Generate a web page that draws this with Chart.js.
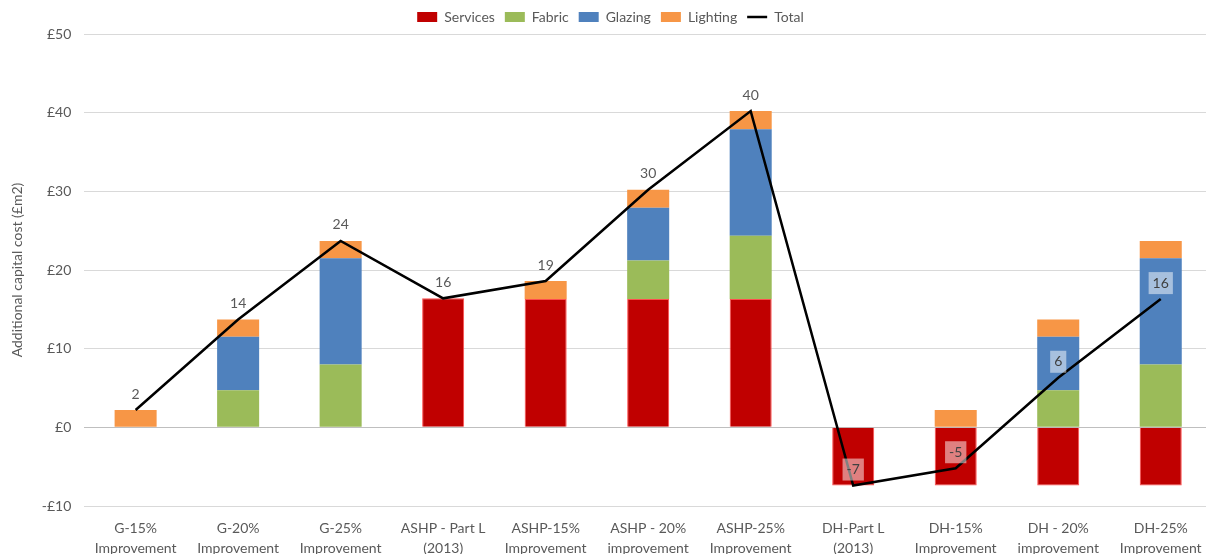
<!DOCTYPE html>
<html>
<head>
<meta charset="utf-8">
<script src="https://cdn.jsdelivr.net/npm/chart.js@4"></script>
<style>
  html, body { margin: 0; padding: 0; background: #fff; overflow: hidden; }
  #wrap { width: 1212px; height: 554px; }
</style>
</head>
<body>
<div id="wrap"><canvas id="costChart"></canvas></div>
<script>
const categories = [
   ['G-15%', 'Improvement'], ['G-20%', 'Improvement'], ['G-25%', 'Improvement'],
   ['ASHP - Part L', '(2013)'], ['ASHP-15%', 'Improvement'], ['ASHP - 20%', 'improvement'],
   ['ASHP-25%', 'Improvement'], ['DH-Part L', '(2013)'], ['DH-15%', 'Improvement'],
   ['DH - 20%', 'improvement'], ['DH-25%', 'Improvement']
];
const services = [null, null, null, 16.4, 16.3, 16.3, 16.3, -7.4, -7.4, -7.4, -7.4];
const fabric   = [null, 4.7, 8.0, null, null, 4.9, 8.05, null, null, 4.7, 8.0];
const glazing  = [null, 6.8, 13.5, null, null, 6.7, 13.55, null, null, 6.8, 13.5];
const lighting = [2.2, 2.2, 2.2, null, 2.3, 2.3, 2.3, null, 2.2, 2.2, 2.2];
const total    = [2.2, 13.7, 23.7, 16.4, 18.6, 30.2, 40.2, -7.4, -5.2, 6.3, 16.3];
const boxedLabels = [7, 8, 9, 10];

const font = { family: 'Lato', size: 14 };
const textColor = '#595959';

// values on the Total line, DH ones sit on a pale box
const totalLabels = {
   id: 'totalLabels',
   afterDatasetsDraw(chart) {
      const idx = chart.data.datasets.findIndex(d => d.type === 'line');
      const meta = chart.getDatasetMeta(idx);
      const c = chart.ctx;
      c.save();
      c.font = '14px Lato';
      c.textAlign = 'center';
      c.textBaseline = 'middle';
      meta.data.forEach((pt, i) => {
         const txt = String(Math.round(total[i]));
         const x = pt.x, y = pt.y - 16;
         if (boxedLabels.includes(i)) {
            const w = c.measureText(txt).width + 8;
            c.fillStyle = 'rgba(255,255,255,0.5)';
            c.fillRect(x - w / 2, y - 11, w, 22);
            c.fillStyle = '#404040';
         } else {
            c.fillStyle = textColor;
         }
         c.fillText(txt, x, y);
      });
      c.restore();
   }
};

new Chart(document.getElementById('costChart'), {
   data: {
      labels: categories,
      datasets: [
         { type: 'bar', label: 'Services', data: services, backgroundColor: '#C00000', borderColor: '#ff4d4d', borderWidth: 1, order: 1 },
         { type: 'bar', label: 'Fabric', data: fabric, backgroundColor: '#9BBB59', order: 1 },
         { type: 'bar', label: 'Glazing', data: glazing, backgroundColor: '#4F81BD', order: 1 },
         { type: 'bar', label: 'Lighting', data: lighting, backgroundColor: '#F79646', order: 1 },
         { type: 'line', label: 'Total', data: total, borderColor: '#000', backgroundColor: '#000', borderWidth: 2.5, pointRadius: 0, tension: 0, order: 0 }
      ]
   },
   options: {
      responsive: true,
      maintainAspectRatio: false,
      animation: false,
      layout: { padding: { left: 9, right: 0, top: 0, bottom: 0 } },
      datasets: { bar: { categoryPercentage: 1, barPercentage: 0.41 } },
      plugins: {
         tooltip: { enabled: false },
         legend: {
            display: true,
            position: 'top',
            labels: {
               font: font,
               color: textColor,
               usePointStyle: true,
               pointStyleWidth: 20,
               boxHeight: 10,
               padding: 10,
               sort: (a, b) => a.datasetIndex - b.datasetIndex,
               generateLabels(chart) {
                  return chart.data.datasets.map((d, i) => ({
                     text: d.label,
                     fillStyle: d.backgroundColor,
                     strokeStyle: d.type === 'line' ? '#000' : d.backgroundColor,
                     lineWidth: d.type === 'line' ? 2.5 : 0,
                     pointStyle: d.type === 'line' ? 'line' : 'rect',
                     fontColor: textColor,
                     datasetIndex: i,
                     hidden: false
                  }));
               }
            }
         }
      },
      scales: {
         x: {
            stacked: true,
            grid: { display: false },
            border: { display: false },
            ticks: { font: { family: 'Lato', size: 14, lineHeight: 1.43 }, color: textColor, padding: 4, maxRotation: 0, autoSkip: false },
            afterFit: s => { s.height = 48; }
         },
         y: {
            stacked: true,
            min: -10,
            max: 50,
            grid: {
               drawTicks: false,
               color: ctx => ctx.tick && ctx.tick.value === 0 ? '#bfbfbf' : '#d9d9d9'
            },
            border: { display: false },
            ticks: {
               stepSize: 10,
               padding: 13,
               font: font,
               color: textColor,
               callback: v => (v < 0 ? '-£' + Math.abs(v) : '£' + v)
            },
            title: { display: true, text: 'Additional capital cost (£m2)', font: font, color: textColor, padding: { top: 0, bottom: 3 } }
         }
      }
   },
   plugins: [totalLabels]
});
</script>
</body>
</html>
